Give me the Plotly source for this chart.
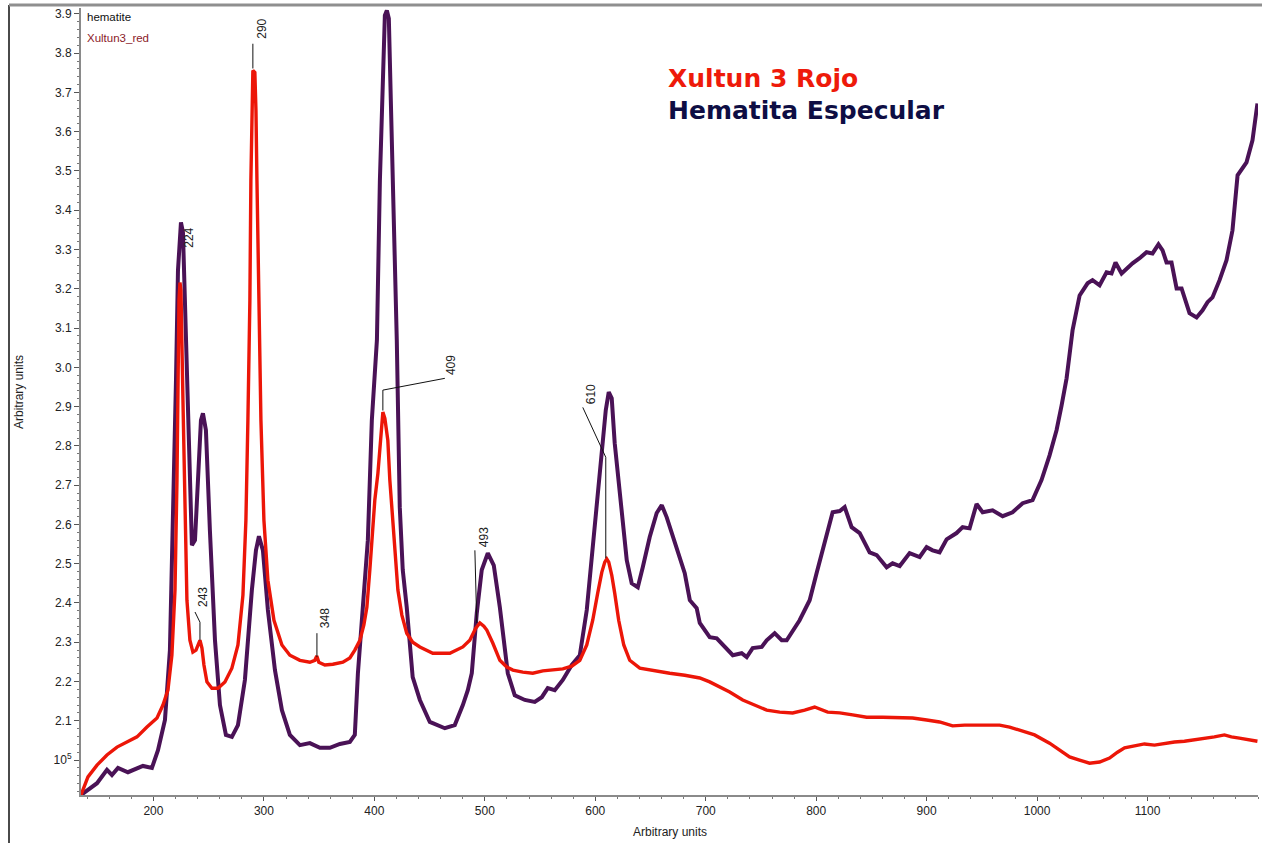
import plotly.graph_objects as go

# ---------------- data ----------------
hem_x = [134.4, 148.9, 157.9, 162.4, 167.9, 176.9, 190.5, 198.6, 204.1, 210.4, 214.9, 218.6, 220.4, 222.2, 224.0, 224.9,
         226.7, 228.5, 230.3, 233.0, 234.8, 237.6, 240.3, 243.0, 244.8, 247.5, 251.1, 255.7, 260.2, 265.6, 271.0, 276.5,
         282.8, 289.1, 292.8, 295.5, 299.1, 303.6, 310.0, 316.3, 323.5, 332.6, 341.6, 350.7, 359.7, 368.8, 377.8, 382.3,
         385.1, 389.6, 394.1, 397.7, 402.3, 405.0, 407.7, 409.5, 411.3, 413.1, 414.9, 416.7, 420.3, 423.0, 425.7, 429.3,
         434.7, 441.2, 450.2, 463.8, 472.8, 480.1, 484.6, 488.2, 492.7, 497.2, 502.7, 508.1, 513.6, 520.8, 527.1, 536.2,
         545.2, 551.6, 557.0, 563.3, 570.6, 578.7, 586.0, 592.3, 597.7, 605.9, 609.5, 612.2, 614.9, 617.6, 622.1, 628.5,
         633.0, 638.5, 643.0, 649.3, 655.6, 660.2, 664.7, 673.8, 681.0, 685.6, 691.8, 694.6, 703.6, 710.0, 724.5, 732.5,
         737.1, 742.5, 750.7, 755.2, 762.4, 768.8, 773.3, 785.0, 794.1, 800.4, 809.4, 814.9, 821.3, 825.8, 832.1, 839.4,
         848.4, 854.8, 863.8, 869.2, 875.6, 884.6, 893.7, 900.0, 905.4, 911.7, 918.1, 927.1, 932.6, 938.9, 945.2, 950.7,
         959.7, 968.8, 977.8, 986.9, 995.9, 1004.0, 1011.3, 1017.6, 1022.2, 1026.7, 1032.1, 1038.5, 1045.7, 1050.2,
         1056.6, 1062.9, 1067.4, 1071.0, 1076.5, 1086.4, 1092.8, 1099.1, 1104.5, 1109.9, 1113.6, 1117.2, 1121.7, 1126.3,
         1130.8, 1138.0, 1144.4, 1149.8, 1154.3, 1158.8, 1165.2, 1171.5, 1176.9, 1181.5, 1189.6, 1195.0, 1199.5]
hem_y = [1.911, 1.941, 1.975, 1.962, 1.980, 1.969, 1.985, 1.980, 2.025, 2.102, 2.280, 2.713, 2.967, 3.247, 3.359, 3.369,
         3.344, 3.171, 2.967, 2.713, 2.547, 2.560, 2.713, 2.865, 2.883, 2.840, 2.585, 2.305, 2.140, 2.064, 2.059, 2.089,
         2.204, 2.433, 2.534, 2.570, 2.534, 2.382, 2.229, 2.127, 2.064, 2.038, 2.043, 2.031, 2.031, 2.041, 2.046, 2.064,
         2.221, 2.389, 2.560, 2.865, 3.069, 3.476, 3.782, 3.896, 3.909, 3.888, 3.680, 3.476, 3.069, 2.644, 2.484, 2.389,
         2.211, 2.153, 2.097, 2.081, 2.089, 2.140, 2.178, 2.221, 2.374, 2.484, 2.527, 2.496, 2.389, 2.221, 2.165, 2.153,
         2.148, 2.160, 2.183, 2.178, 2.204, 2.242, 2.267, 2.382, 2.542, 2.789, 2.891, 2.937, 2.921, 2.807, 2.680, 2.509,
         2.450, 2.440, 2.491, 2.568, 2.629, 2.649, 2.618, 2.542, 2.476, 2.407, 2.387, 2.349, 2.313, 2.310, 2.267, 2.272,
         2.262, 2.285, 2.288, 2.305, 2.323, 2.305, 2.305, 2.356, 2.407, 2.476, 2.578, 2.631, 2.634, 2.644, 2.593, 2.578,
         2.529, 2.522, 2.491, 2.501, 2.494, 2.527, 2.517, 2.542, 2.534, 2.529, 2.562, 2.578, 2.593, 2.590, 2.652, 2.631,
         2.636, 2.621, 2.631, 2.654, 2.662, 2.713, 2.776, 2.840, 2.903, 2.972, 3.094, 3.183, 3.214, 3.222,
         3.209, 3.242, 3.239, 3.267, 3.239, 3.265, 3.278, 3.293, 3.290, 3.313, 3.298, 3.267, 3.267, 3.201,
         3.201, 3.138, 3.127, 3.145, 3.166, 3.178, 3.222, 3.273, 3.349, 3.489, 3.522, 3.578, 3.672]

red_x = [134.4, 140.7, 148.9, 157.9, 167.0, 176.0, 185.1, 194.1, 203.2, 208.6, 213.1, 216.7, 219.5, 221.3, 222.2, 223.1,
         224.0, 224.9, 226.7, 228.5, 230.3, 233.0, 235.7, 238.5, 240.3, 242.1, 243.9, 245.7, 248.4, 252.9, 258.4, 264.7,
         271.0, 276.5, 281.0, 283.7, 285.5, 287.3, 288.2, 289.1, 290.0, 291.8, 292.8, 293.7, 295.5, 297.3, 300.0, 303.6,
         309.1, 316.3, 323.5, 332.6, 341.6, 346.1, 347.9, 349.7, 355.2, 362.4, 371.5, 377.8, 382.3, 386.9, 390.5, 393.2,
         395.9, 397.7, 400.4, 403.2, 405.9, 407.7, 409.5, 412.2, 414.0, 416.7, 419.4, 421.3, 424.9, 429.3, 434.7, 441.2,
         452.9, 468.3, 480.1, 486.4, 491.8, 495.5, 499.1, 501.8, 507.2, 513.6, 519.9, 525.4, 534.4, 543.4, 552.5, 561.5,
         570.6, 578.7, 586.0, 592.3, 597.7, 602.2, 605.9, 608.6, 610.4, 612.2, 614.9, 617.6, 621.2, 625.8, 631.2, 640.3,
         653.8, 667.4, 681.0, 694.6, 703.6, 712.7, 721.7, 733.5, 744.4, 755.2, 767.0, 778.7, 789.6, 798.6, 810.4, 821.3,
         833.0, 845.7, 860.2, 875.6, 887.3, 900.0, 911.7, 923.5, 934.4, 948.0, 966.1, 975.1, 984.2, 997.7, 1011.3, 1020.3,
         1029.4, 1038.4, 1047.5, 1056.6, 1065.6, 1072.8, 1079.2, 1088.2, 1097.2, 1106.3, 1115.3, 1124.4, 1133.4, 1142.5,
         1151.5, 1160.5, 1169.6, 1175.9, 1183.1, 1192.1, 1199.5]
red_y = [1.911, 1.957, 1.987, 2.013, 2.033, 2.046, 2.059, 2.084, 2.107, 2.140, 2.178, 2.267, 2.433, 2.713, 2.967, 3.171,
         3.216, 3.196, 2.916, 2.611, 2.407, 2.305, 2.275, 2.280, 2.293, 2.305, 2.285, 2.242, 2.199, 2.183, 2.183, 2.199,
         2.234, 2.293, 2.420, 2.611, 2.865, 3.171, 3.476, 3.705, 3.756, 3.751, 3.654, 3.476, 3.171, 2.865, 2.611, 2.458,
         2.356, 2.293, 2.267, 2.254, 2.249, 2.254, 2.265, 2.249, 2.242, 2.244, 2.249, 2.260, 2.280, 2.305, 2.344, 2.389,
         2.484, 2.560, 2.662, 2.730, 2.827, 2.886, 2.870, 2.814, 2.713, 2.603, 2.496, 2.433, 2.369, 2.323, 2.300, 2.288,
         2.272, 2.272, 2.288, 2.305, 2.336, 2.349, 2.341, 2.331, 2.298, 2.254, 2.237, 2.229, 2.224, 2.221, 2.227, 2.229,
         2.232, 2.239, 2.254, 2.293, 2.356, 2.425, 2.478, 2.504, 2.512, 2.504, 2.471, 2.425, 2.356, 2.293, 2.254, 2.234,
         2.227, 2.221, 2.216, 2.209, 2.199, 2.186, 2.173, 2.153, 2.140, 2.127, 2.122, 2.120, 2.127, 2.135, 2.122, 2.120,
         2.115, 2.109, 2.109, 2.107, 2.107, 2.102, 2.097, 2.087, 2.089, 2.089, 2.089, 2.084, 2.076, 2.064, 2.043, 2.025,
         2.008, 2.000, 1.992, 1.995, 2.005, 2.020, 2.031, 2.036, 2.041, 2.038, 2.043, 2.046, 2.048, 2.051,
         2.056, 2.059, 2.064, 2.059, 2.056, 2.051, 2.048]

peak_labels = ["224", "243", "290", "348", "409", "493", "610"]
label_x = [232.2, 244.8, 298.2, 355.2, 470.0, 500.0, 596.9]
label_y = [3.33, 2.415, 3.862, 2.361, 3.005, 2.567, 2.931]
leader_x = [None, [237.6, 242.1, 242.1], [290.0, 290.0], [348.0, 348.0], [463.8, 407.7, 407.7], [491.0, 492.7],
            [588.7, 609.5, 609.5]]
leader_y = [None, [2.377, 2.351, 2.305], [3.824, 3.761], [2.323, 2.262], [2.972, 2.942, 2.89], [2.534, 2.349],
            [2.898, 2.771, 2.514]]

x_ticks = [200, 300, 400, 500, 600, 700, 800, 900, 1000, 1100]
y_ticks = [2.0, 2.1, 2.2, 2.3, 2.4, 2.5, 2.6, 2.7, 2.8, 2.9, 3.0, 3.1, 3.2, 3.3, 3.4, 3.5, 3.6, 3.7, 3.8, 3.9]
y_ticktext = ["10<sup>5</sup>"] + [f"{v:.1f}" for v in y_ticks[1:]]

series_names = ["hematite", "Xultun3_red"]
title_lines = ["Xultun 3 Rojo", "Hematita Especular"]

# ---------------- figure ----------------
W, H = 1262, 843
L, R, T, B = 81, 4, 8, 48
pw, ph = W - L - R, H - T - B


def px_x(p):
    return (p - L) / pw


def px_y(p):
    return (H - B - p) / ph


fig = go.Figure()
fig.add_trace(go.Scatter(x=hem_x, y=hem_y, mode="lines", name=series_names[0],
                         line=dict(color="#4a1256", width=4)))
fig.add_trace(go.Scatter(x=red_x, y=red_y, mode="lines", name=series_names[1],
                         line=dict(color="#ec1608", width=3.4)))

font_main = "Liberation Sans, Arial, sans-serif"
annotations = []
shapes = []
for lab, lx, ly, sx, sy in zip(peak_labels, label_x, label_y, leader_x, leader_y):
    annotations.append(dict(x=lx, y=ly, xref="x", yref="y", text=lab, showarrow=False, textangle=-90,
                            font=dict(family=font_main, size=12, color="#222")))
    if sx:
        path = "M " + " L ".join(f"{a},{b}" for a, b in zip(sx, sy))
        shapes.append(dict(type="path", path=path, xref="x", yref="y",
                           line=dict(color="#111", width=1)))

# series labels (top-left)
annotations.append(dict(x=px_x(85), y=px_y(17), xref="paper", yref="paper", text=series_names[0],
                        showarrow=False, xanchor="left", yanchor="middle",
                        font=dict(family=font_main, size=11.5, color="#111")))
annotations.append(dict(x=px_x(85), y=px_y(38), xref="paper", yref="paper", text=series_names[1],
                        showarrow=False, xanchor="left", yanchor="middle",
                        font=dict(family=font_main, size=11.5, color="#8b1a28")))
# big titles
annotations.append(dict(x=px_x(666), y=px_y(78), xref="paper", yref="paper", text="<b>" + title_lines[0] + "</b>",
                        showarrow=False, xanchor="left", yanchor="middle",
                        font=dict(family="DejaVu Sans, sans-serif", size=25, color="#ee1a0a")))
annotations.append(dict(x=px_x(666), y=px_y(111), xref="paper", yref="paper", text="<b>" + title_lines[1] + "</b>",
                        showarrow=False, xanchor="left", yanchor="middle",
                        font=dict(family="DejaVu Sans, sans-serif", size=25, color="#0e0e44")))
# axis titles
annotations.append(dict(x=0.5, y=px_y(832), xref="paper", yref="paper", text="Arbitrary units",
                        showarrow=False, xanchor="center", yanchor="middle",
                        font=dict(family=font_main, size=12, color="#222")))
annotations.append(dict(x=px_x(19), y=px_y(392), xref="paper", yref="paper", text="Arbitrary units",
                        showarrow=False, textangle=-90, xanchor="center", yanchor="middle",
                        font=dict(family=font_main, size=12, color="#222")))

# window frame lines
shapes.append(dict(type="line", xref="paper", yref="paper", x0=px_x(9), x1=px_x(9), y0=px_y(843), y1=px_y(5),
                   line=dict(color="#4a4a4a", width=2)))
shapes.append(dict(type="line", xref="paper", yref="paper", x0=px_x(9), x1=px_x(1262), y0=px_y(5), y1=px_y(5),
                   line=dict(color="#8f8f8f", width=3)))

fig.update_layout(
    width=W, height=H,
    margin=dict(l=L, r=R, t=T, b=B),
    paper_bgcolor="white", plot_bgcolor="white",
    showlegend=False,
    annotations=annotations,
    shapes=shapes,
    font=dict(family=font_main, size=12, color="#222"),
)
fig.update_xaxes(range=[134.4, 1200], tickvals=x_ticks, ticks="outside", ticklen=4, tickwidth=1,
                 tickcolor="#555", showline=True, linecolor="#8a8a8a", linewidth=2, showgrid=False,
                 zeroline=False, tickfont=dict(size=12, color="#222"),
                 minor=dict(dtick=20, ticks="outside", ticklen=2, tickcolor="#777"))
fig.update_yaxes(range=[1.911, 3.915], tickvals=y_ticks, ticktext=y_ticktext, ticks="outside", ticklen=5,
                 tickwidth=1, tickcolor="#555", showline=True, linecolor="#8a8a8a", linewidth=2, showgrid=False,
                 zeroline=False, tickfont=dict(size=12, color="#222"),
                 minor=dict(dtick=0.02, ticks="outside", ticklen=2, tickcolor="#777"))

fig.write_html("out.html", config={"displayModeBar": False},
               post_script="document.body.style.margin='0px';document.body.style.overflow='hidden';")
